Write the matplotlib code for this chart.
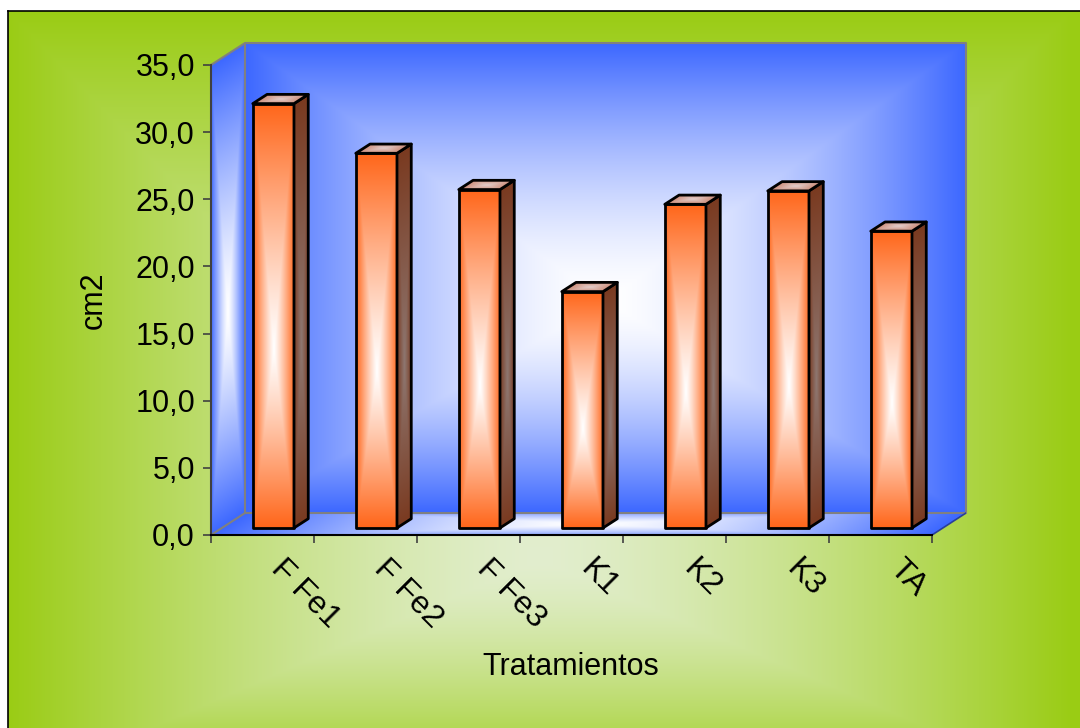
import numpy as np
import matplotlib.pyplot as plt
from matplotlib.patches import Polygon

# datos
categories = ['F Fe1', 'F Fe2', 'F Fe3', 'K1', 'K2', 'K3', 'TA']
area_cm2 = [31.6, 27.9, 25.2, 17.6, 24.1, 25.1, 22.1]
y_ticks = [0, 5, 10, 15, 20, 25, 30, 35]
y_tick_labels = [f'{v:.1f}'.replace('.', ',') for v in y_ticks]

plt.rcParams['font.family'] = ['Liberation Sans', 'DejaVu Sans']

W, H = 1080, 728
fig = plt.figure(figsize=(W / 100, H / 100), dpi=100)


def rgb(*c):
    return np.array(c) / 255.0


# fondo verde con degradado desde el centro
bg = fig.add_axes([0, 0, 1, 1])
bg.set_xlim(0, W)
bg.set_ylim(H, 0)
bg.axis('off')
xx, yy = np.meshgrid(np.arange(W) + 0.5, np.arange(H) + 0.5)
cx, cy = 540, 560
u = np.abs(xx - cx) / 532
v = np.where(yy < cy, (cy - yy) / 549, (yy - cy) / 230)
t = np.clip(np.maximum(u, v), 0, 1) ** 1.4
t = t[..., None]
img = rgb(226, 238, 206) * (1 - t) + rgb(154, 204, 20) * t
img[(xx < 8) | (yy < 11)] = 1.0
bg.imshow(img, extent=(0, W, H, 0), aspect='auto', interpolation='bilinear')
bg.plot([8, 8], [H, 11], color='black', lw=1.2)
bg.plot([8, W], [11, 11], color='black', lw=1.2)
bg.set_xlim(0, W)
bg.set_ylim(H, 0)

# ejes con profundidad (proyeccion oblicua)
DX = 34 / 103
DY = 22 / (470 / 35)
ax = fig.add_axes([211 / W, (H - 535) / H, 755 / W, 492 / H])
ax.patch.set_visible(False)


def shade(ax, origin, e1, e2, inner, outer, z, edge='none', lw=0,
          vscale=1.0, gamma=1.0, vc=0.5):
    o = np.array(origin, dtype=float)
    e1 = np.array(e1, dtype=float)
    e2 = np.array(e2, dtype=float)
    corners = np.array([o, o + e1, o + e1 + e2, o + e2])
    x0, y0 = corners.min(0)
    x1, y1 = corners.max(0)
    n = 240
    gx, gy = np.meshgrid(np.linspace(x0, x1, n), np.linspace(y0, y1, n))
    inv = np.linalg.inv(np.column_stack([e1, e2]))
    rel = np.stack([gx - o[0], gy - o[1]], axis=-1)
    ab = rel @ inv.T
    b = ab[..., 1]
    bn = np.where(b < vc, (vc - b) / vc, (b - vc) / (1 - vc))
    tt = np.maximum(np.abs(2 * ab[..., 0] - 1), vscale * bn)
    tt = np.clip(tt, 0, 1) ** gamma
    tt = tt[..., None]
    im_data = inner * (1 - tt) + outer * tt
    im = ax.imshow(im_data, extent=(x0, x1, y0, y1), origin='lower',
                   aspect='auto', interpolation='bilinear', zorder=z)
    poly = Polygon(corners, closed=True, facecolor='none', edgecolor=edge,
                   lw=lw, zorder=z + 0.1, joinstyle='round')
    ax.add_patch(poly)
    im.set_clip_path(poly)


blue = rgb(61, 104, 255)
white = rgb(255, 255, 255)
n_cat = len(categories)

# pared del fondo, suelo y pared lateral
shade(ax, (-0.5 + DX, DY), (n_cat, 0), (0, 35), white, blue, 1, gamma=1.5,
      vc=0.45)
shade(ax, (-0.5, 0), (n_cat, 0), (DX, DY), white, blue, 1.2, vscale=0.7,
      gamma=1.4)
shade(ax, (-0.5, 0), (DX, DY), (0, 35), white, blue, 1.4, gamma=1.3, vc=0.45)

grey = '#808080'
ax.plot([-0.5, -0.5 + DX, 6.5 + DX, 6.5 + DX], [35, 35 + DY, 35 + DY, DY],
        color=grey, lw=1.5, clip_on=False, zorder=2)
ax.plot([-0.5, -0.5 + DX, 6.5 + DX], [0, DY, DY], color=grey, lw=1.5, zorder=2)
ax.plot([-0.5 + DX, -0.5 + DX], [DY, 35 + DY], color=grey, lw=1.5, zorder=2)
ax.plot([6.5, 6.5 + DX], [0, DY], color='#2a3f9a', lw=1.2, zorder=2)

# barras
f0 = 0.32
fd = 0.42
bw = 0.40
b0 = f0 * DY
orange = rgb(255, 102, 26)
for i, val in enumerate(area_cm2):
    xc = i + f0 * DX
    z = 3 + i
    shade(ax, (xc - bw / 2, b0), (bw, 0), (0, val), white, orange, z,
          edge='black', lw=2.0, gamma=1.15, vc=0.42)
    shade(ax, (xc + bw / 2, b0), (fd * DX, fd * DY), (0, val),
          rgb(142, 120, 114), rgb(122, 58, 32), z + 0.2, edge='black',
          lw=2.0, vc=0.42)
    shade(ax, (xc - bw / 2, b0 + val), (bw, 0), (fd * DX, fd * DY),
          rgb(226, 206, 204), rgb(205, 140, 120), z + 0.4, edge='black',
          lw=2.0)

ax.set_xlim(-0.5, 6.5 + DX)
ax.set_ylim(0, 35 + DY)

for side in ['top', 'right']:
    ax.spines[side].set_visible(False)
ax.spines['left'].set_bounds(0, 35)
ax.spines['left'].set_color('#404040')
ax.spines['left'].set_linewidth(1.5)
ax.spines['bottom'].set_bounds(-0.5, 6.5)
ax.spines['bottom'].set_color('black')
ax.spines['bottom'].set_linewidth(1.5)
for sp in ax.spines.values():
    sp.set_zorder(20)

ax.set_yticks(y_ticks, y_tick_labels)
ax.tick_params(axis='y', length=5.8, width=1.2, color='#404040', pad=5.8,
               labelsize=22)
ax.set_xticks(np.arange(-0.5, n_cat, 1), [''] * (n_cat + 1))
ax.set_xticks(np.arange(n_cat) + 0.13, categories, minor=True)
ax.tick_params(axis='x', which='major', length=5.8, width=1.2, color='#404040')
ax.tick_params(axis='x', which='minor', length=0, pad=21, labelsize=23)
for lbl in ax.get_xticklabels(minor=True):
    lbl.set_rotation(-45)
    lbl.set_ha('left')
    lbl.set_va('center')
    lbl.set_rotation_mode('anchor')

fig.text(94 / W, 1 - 300 / H, 'cm2', rotation=90, ha='center', va='center',
         fontsize=22)
fig.text(571 / W, 1 - 667 / H, 'Tratamientos', ha='center', va='center',
         fontsize=22)

fig.savefig('out.png', dpi=100)
